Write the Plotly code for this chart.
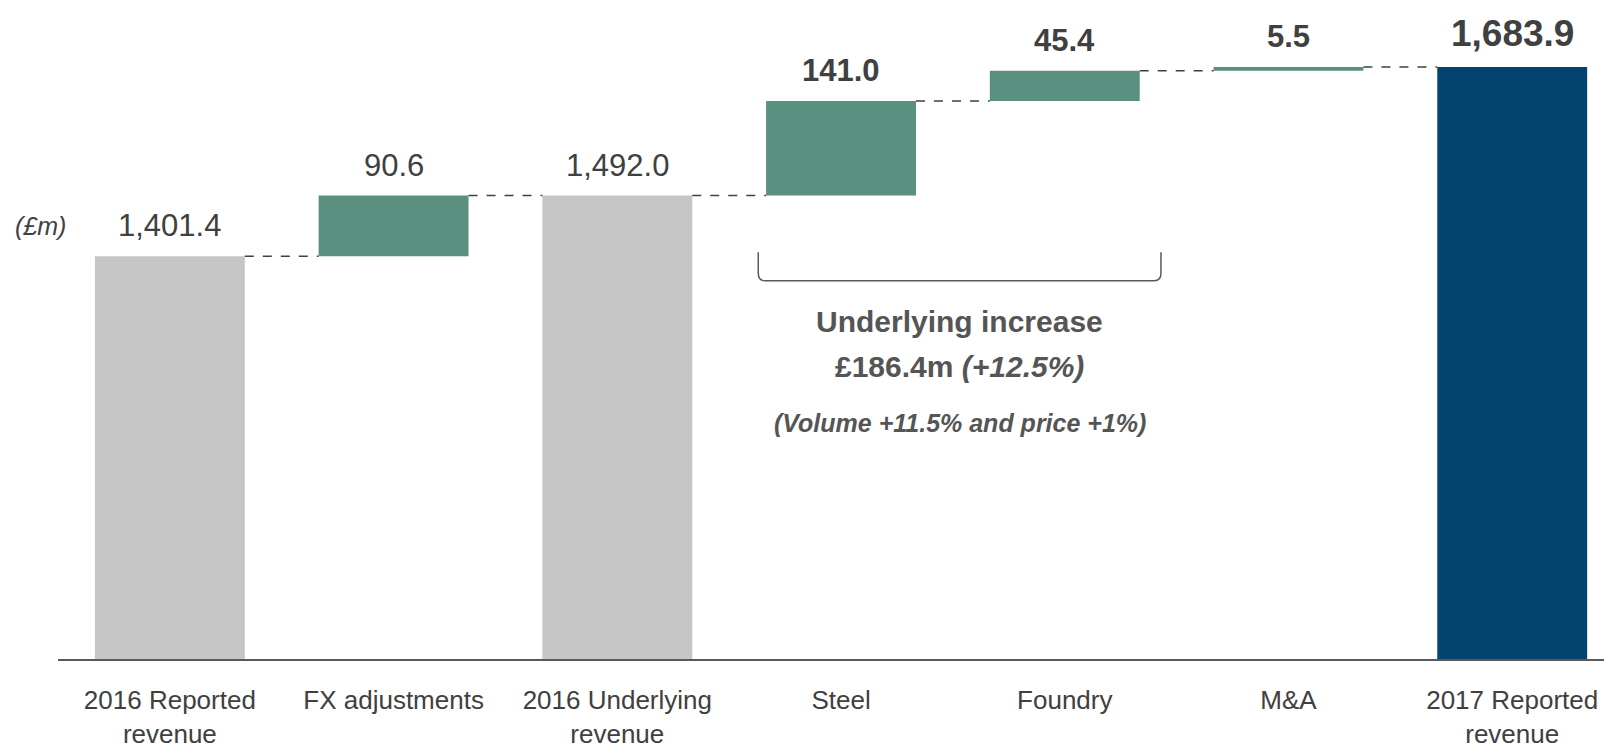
import plotly.graph_objects as go

# (£m) revenue bridge 2016 -> 2017
categories = ["2016 Reported<br>revenue", "FX adjustments", "2016 Underlying<br>revenue",
              "Steel", "Foundry", "M&A", "2017 Reported<br>revenue"]
values = [1401.4, 90.6, 1492.0, 141.0, 45.4, 5.5, 1683.9]
measures = ["total", "relative", "total", "relative", "relative", "relative", "total"]
bar_colors = ["#c6c6c6", "#5a9080", "#c6c6c6", "#5a9080", "#5a9080", "#5a9080", "#03446f"]
bold_labels = [False, False, False, True, True, True, True]
label_sizes = [31, 31, 31, 31, 31, 31, 37]

FONT = "Liberation Sans, Arial, sans-serif"
TEXT_COLOR = "#404040"

# bar bases and running totals
bases, ends = [], []
running = 0.0
for v, m in zip(values, measures):
    if m == "total":
        bases.append(0.0)
        running = v
    else:
        bases.append(running)
        running += v
    ends.append(running)

BAR_W = 0.67
x_idx = list(range(len(categories)))

fig = go.Figure()
fig.add_trace(go.Bar(
    x=x_idx,
    y=values,
    base=bases,
    width=BAR_W,
    marker=dict(color=bar_colors, line=dict(width=0)),
    hoverinfo="skip",
))

# value labels above each bar
for i, (v, b, sz) in enumerate(zip(values, bold_labels, label_sizes)):
    s = f"{v:,.1f}"
    fig.add_annotation(x=i, y=ends[i], xref="x", yref="y", showarrow=False,
                       yanchor="bottom", yshift=11,
                       text=f"<b>{s}</b>" if b else s,
                       font=dict(family=FONT, color=TEXT_COLOR, size=sz))

# dashed connectors between bars
for i in range(len(values) - 1):
    fig.add_shape(type="line", xref="x", yref="y",
                  x0=i + BAR_W / 2, x1=i + 1 - BAR_W / 2, y0=ends[i], y1=ends[i],
                  line=dict(color="#404040", width=1.5, dash="dash"))

# bracket under steel + foundry
bx0, bx1 = 2.63, 4.43
yt, yb, r = 0.625, 0.581, 0.012
fig.add_shape(type="path", xref="x", yref="paper",
              path=(f"M {bx0},{yt} L {bx0},{yb + r} Q {bx0},{yb} {bx0 + 0.03},{yb} "
                    f"L {bx1 - 0.03},{yb} Q {bx1},{yb} {bx1},{yb + r} L {bx1},{yt}"),
              line=dict(color="#595959", width=1.5))

fig.add_annotation(x=3.53, y=0.519, xref="x", yref="paper", showarrow=False,
                   text="<b>Underlying increase</b>",
                   font=dict(family=FONT, size=30, color="#555555"))
fig.add_annotation(x=3.53, y=0.450, xref="x", yref="paper", showarrow=False,
                   text="<b>£186.4m <i>(+12.5%)</i></b>",
                   font=dict(family=FONT, size=30, color="#555555"))
fig.add_annotation(x=3.53, y=0.362, xref="x", yref="paper", showarrow=False,
                   text="<b><i>(Volume +11.5% and price +1%)</i></b>",
                   font=dict(family=FONT, size=25, color="#555555"))
fig.add_annotation(x=-0.011, y=0.665, xref="paper", yref="paper",
                   showarrow=False, xanchor="center",
                   text="<i>(£m)</i>", font=dict(family=FONT, size=25, color=TEXT_COLOR))

# page body adds an 8px offset, so the figure is sized to fit inside it
fig.update_layout(
    width=1604, height=740,
    margin=dict(l=50, r=0, t=0, b=89, autoexpand=False),
    paper_bgcolor="white",
    plot_bgcolor="white",
    showlegend=False,
    xaxis=dict(
        tickmode="array", tickvals=x_idx, ticktext=categories,
        range=[-0.5, 6.446], automargin=False,
        showline=True, linecolor="#595959", linewidth=2,
        showgrid=False, zeroline=False,
        ticks="outside", ticklen=17, tickcolor="rgba(0,0,0,0)",
        tickfont=dict(family=FONT, size=26, color=TEXT_COLOR),
    ),
    yaxis=dict(range=[800, 1772], visible=False, showgrid=False, zeroline=False,
               automargin=False),
)

fig.write_html("out.html")
